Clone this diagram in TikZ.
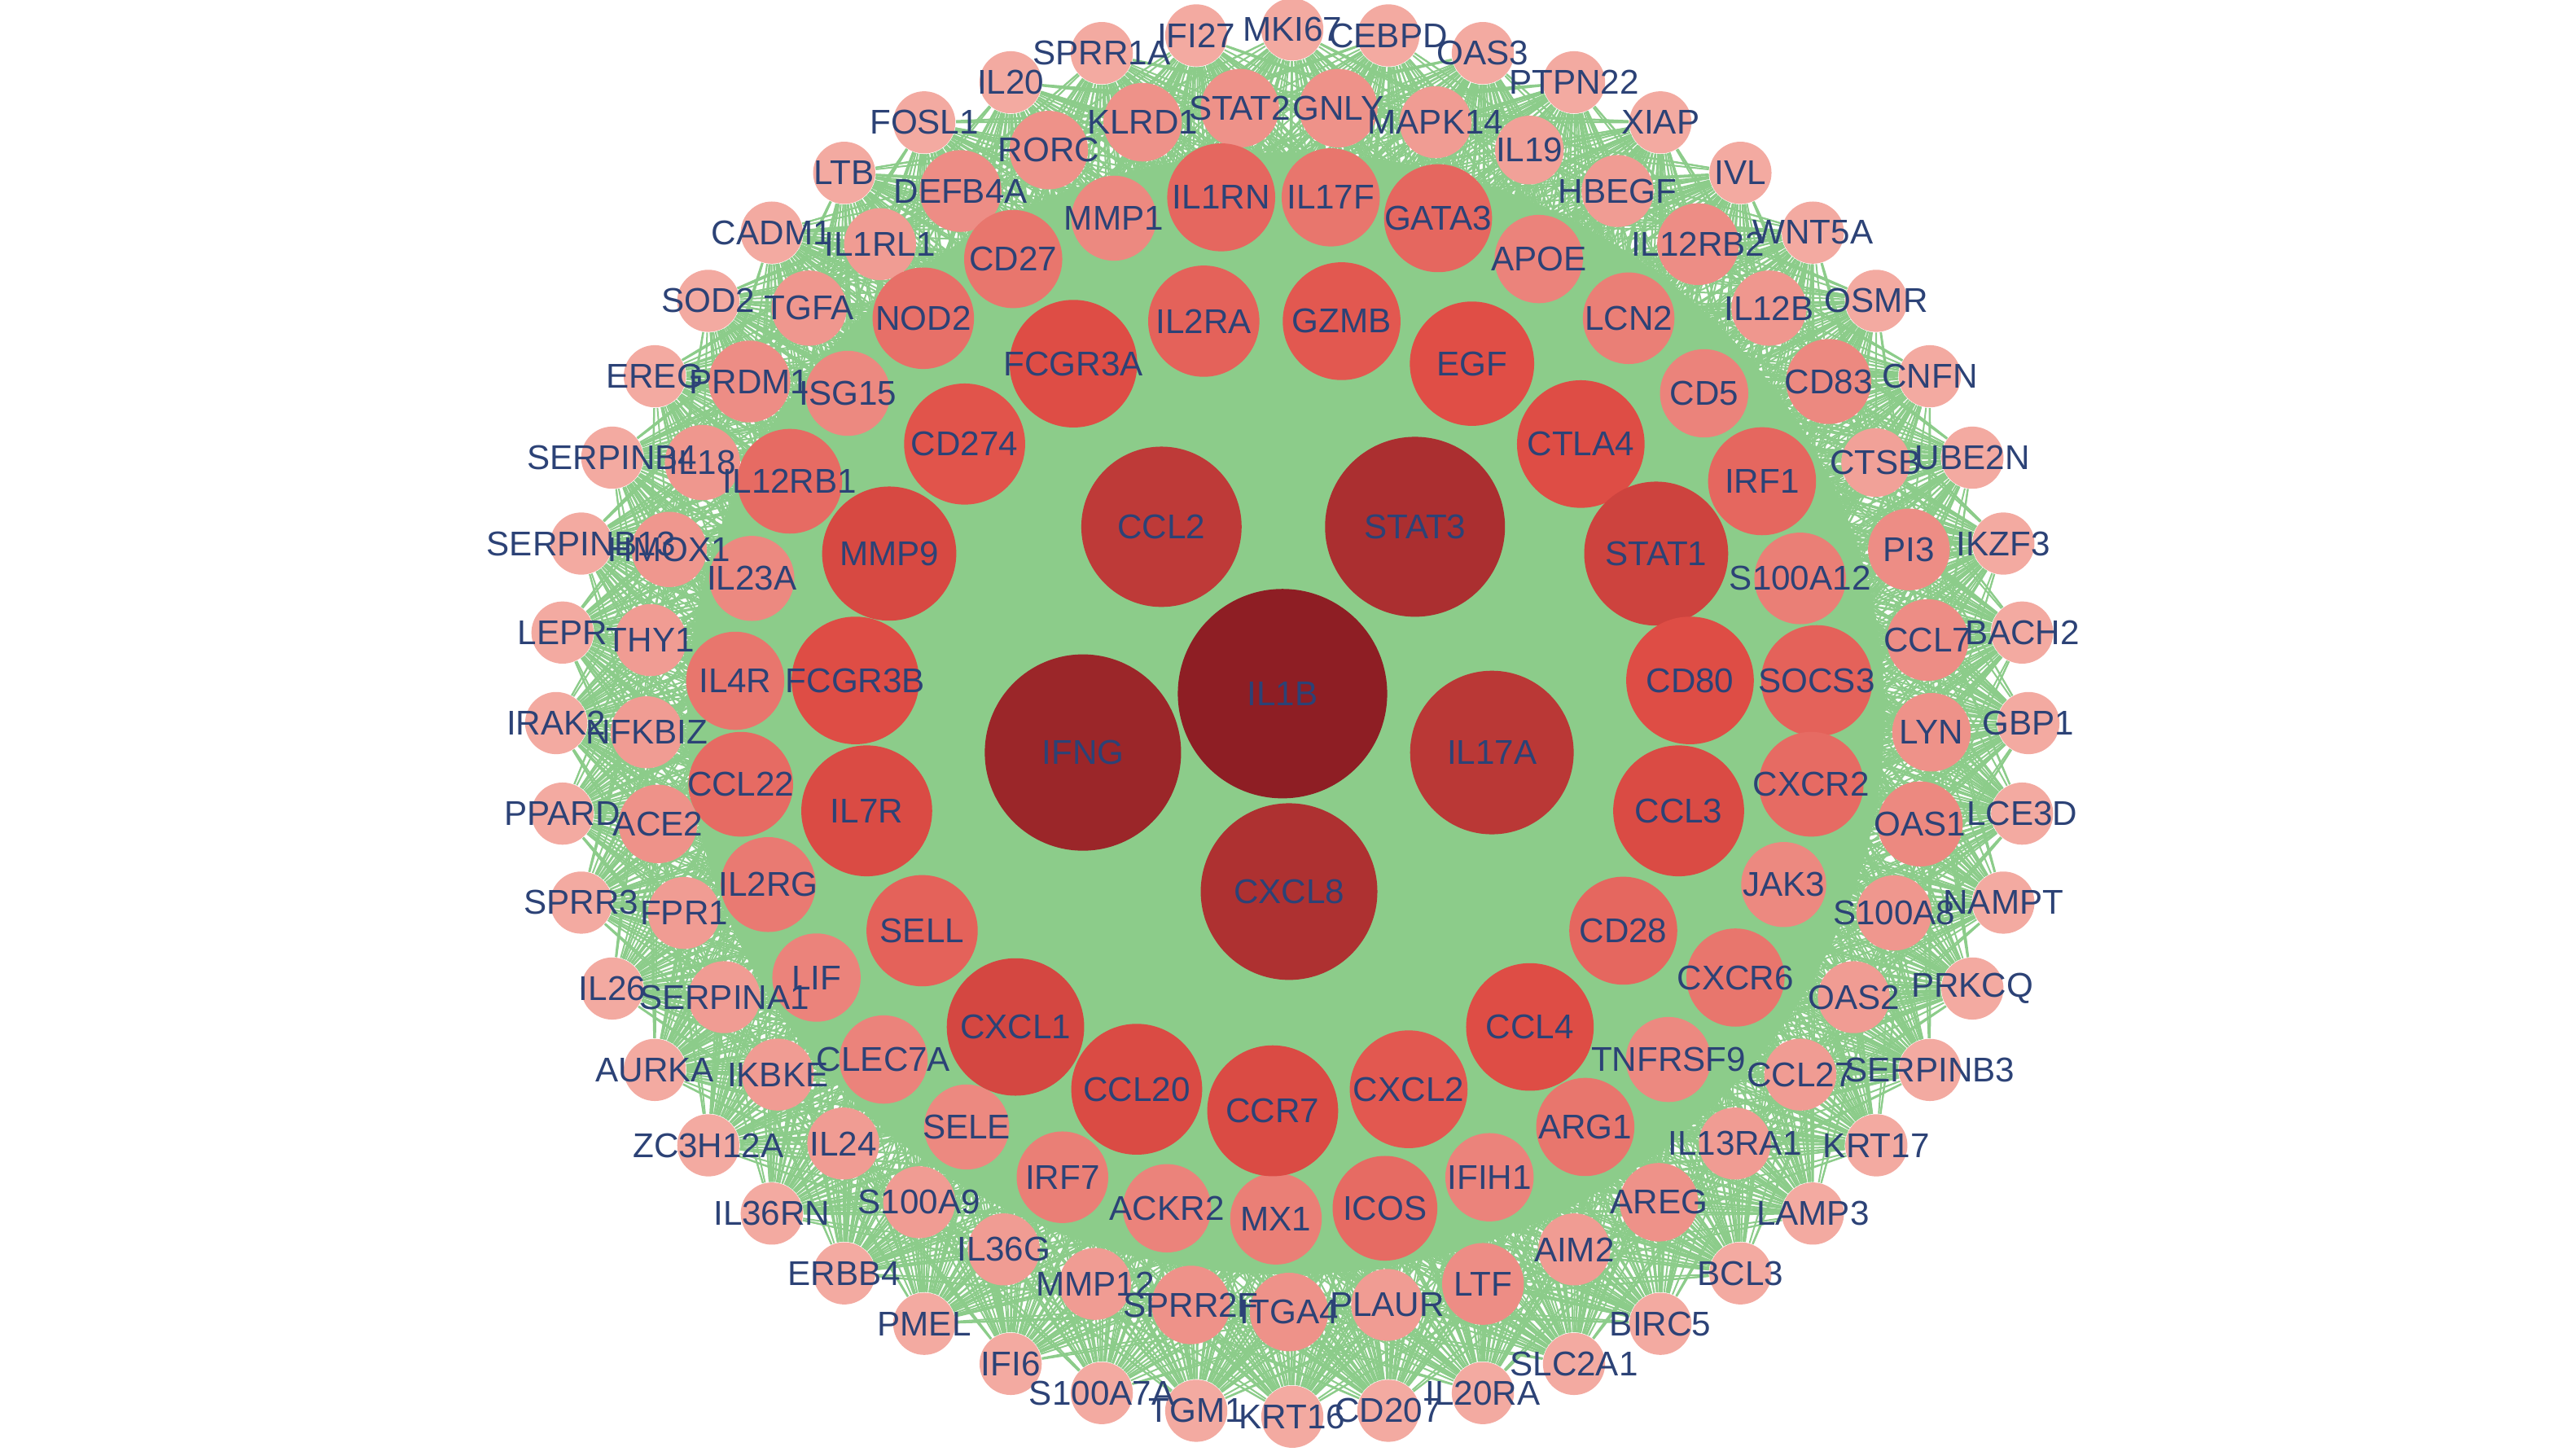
\documentclass[tikz,border=0pt]{standalone}
\usepackage{fontspec}
\setmainfont{Liberation Sans}
\usetikzlibrary{backgrounds}

\definecolor{nwgreen}{RGB}{140,204,138}
\definecolor{nwlow}{RGB}{243,170,161}
\definecolor{nwmid}{RGB}{224,78,70}
\definecolor{nwhigh}{RGB}{142,30,36}
\definecolor{nwtext}{RGB}{44,66,118}

% fill colour from node radius (light pink -> red -> dark red)
\newcommand\genefill[1]{%
  \pgfmathtruncatemacro\gpa{min(100,max(0,(#1-19)*100/19))}%
  \pgfmathtruncatemacro\gpb{min(100,max(0,(#1-38)*100/26))}%
  \colorlet{genetmp}{nwmid!\gpa!nwlow}%
  \colorlet{genecol}{nwhigh!\gpb!genetmp}}

\tikzset{
  gene/.style={circle,inner sep=0pt,minimum size=#1pt,fill=genecol},
  genetext/.style={text=nwtext,inner sep=0pt,font=\fontsize{10.5}{12}\selectfont},
  link/.style={nwgreen,line width=0.5pt}
}

% name/radius/x/y
\def\coreset{IL1B/64/784/424, IFNG/60/662/460, STAT3/55/865/322,
  CXCL8/54/788/545, CCL2/49/710/322, IL17A/50/912/460}
% rings, clockwise from the top
\def\ringB{GZMB/36, EGF/38, CTLA4/39, STAT1/44, CD80/39, CCL3/40, CD28/33,
  CCL4/39, CXCL2/36, CCR7/40, CCL20/40, CXCL1/42, SELL/34, IL7R/40,
  FCGR3B/39, MMP9/41, CD274/37, FCGR3A/39, IL2RA/34}
\def\ringC{IL17F/30, GATA3/33, APOE/27, LCN2/28, CD5/27, IRF1/33, S100A12/28,
  SOCS3/34, CXCR2/32, JAK3/26, CXCR6/30, TNFRSF9/26, ARG1/30, IFIH1/27,
  ICOS/32, MX1/28, ACKR2/27, IRF7/28, SELE/26, CLEC7A/27, LIF/27, IL2RG/29,
  CCL22/32, IL4R/30, IL23A/26, IL12RB1/32, ISG15/26, NOD2/31, CD27/30,
  MMP1/26, IL1RN/33}
\def\ringD{GNLY/24, MAPK14/22, IL19/21, HBEGF/22, IL12RB2/25, IL12B/23,
  CD83/26, CTSB/21, PI3/25, CCL7/25, LYN/24, OAS1/26, S100A8/23, OAS2/22,
  CCL27/22, IL13RA1/22, AREG/24, AIM2/22, LTF/25, PLAUR/22, ITGA4/24,
  SPRR2F/24, MMP12/22, IL36G/22, S100A9/22, IL24/22, IKBKE/22, SERPINA1/22,
  FPR1/22, ACE2/24, NFKBIZ/22, THY1/22, HMOX1/23, IL18/23, PRDM1/25,
  TGFA/23, IL1RL1/22, DEFB4A/25, RORC/24, KLRD1/24, STAT2/24}
\def\ringE{MKI67, CEBPD, OAS3, PTPN22, XIAP, IVL, WNT5A, OSMR, CNFN, UBE2N,
  IKZF3, BACH2, GBP1, LCE3D, NAMPT, PRKCQ, SERPINB3, KRT17, LAMP3, BCL3,
  BIRC5, SLC2A1, IL20RA, CD207, KRT16, TGM1, S100A7A, IFI6, PMEL, ERBB4,
  IL36RN, ZC3H12A, AURKA, IL26, SPRR3, PPARD, IRAK2, LEPR, SERPINB13,
  SERPINB4, EREG, SOD2, CADM1, LTB, FOSL1, IL20, SPRR1A, IFI27}
\def\hubs{IL1B, IFNG, STAT3, CXCL8, CCL2, IL17A, GZMB, EGF, CTLA4, STAT1,
  CD80, CCL3, CD28, CCL4, CXCL2, CCR7, CCL20, CXCL1, SELL, IL7R, FCGR3B,
  MMP9, CD274, FCGR3A, IL2RA}

\begin{document}
\begin{tikzpicture}[x=0.5pt,y=-0.5pt]
  \useasboundingbox (0,0) rectangle (1568,890);

  % nodes
  \foreach \n [count=\i from 0] in \ringE {\genefill{19}
    \node[gene=19,alias=ra-\i] (\n)
      at ({790+450*cos(90-7.5*\i)},{442-424*sin(90-7.5*\i)}) {};}
  \foreach \n/\r [count=\i from 0] in \ringD {\genefill{\r}
    \node[gene=\r,alias=rb-\i] (\n)
      at ({788+393*cos(85.61-8.7805*\i)},{433.5-368.5*sin(85.61-8.7805*\i)}) {};}
  \foreach \n/\r [count=\i from 0] in \ringC {\genefill{\r}
    \node[gene=\r] (\n)
      at ({780+331*cos(84.194-11.6129*\i)},{432-313*sin(84.194-11.6129*\i)}) {};}
  \foreach \n/\r [count=\i from 0] in \ringB {\genefill{\r}
    \node[gene=\r] (\n)
      at ({778+256*cos(80.526-18.9474*\i)},{436-243*sin(80.526-18.9474*\i)}) {};}
  \foreach \n/\r/\x/\y in \coreset {\genefill{\r}
    \node[gene=\r] (\n) at (\x,\y) {};}

  % labels
  \foreach \n in \ringE {\node[genetext] (\n-t) at (\n) {\n};}
  \foreach \n/\r in \ringD {\node[genetext] (\n-t) at (\n) {\n};}
  \foreach \n/\r in \ringC {\node[genetext] (\n-t) at (\n) {\n};}
  \foreach \n/\r in \ringB {\node[genetext] (\n-t) at (\n) {\n};}
  \foreach \n/\r/\x/\y in \coreset {\node[genetext] (\n-t) at (\n) {\n};}

  % edges
  \begin{scope}[on background layer]
    \fill[nwgreen] (786,436) ellipse [x radius=366, y radius=343];
    \foreach \a in \ringE {\foreach \b in \hubs {\draw[link] (\a) -- (\b);}}
    \foreach \a in \ringE {\foreach \b/\s in \ringC {\draw[link] (\a) -- (\b);}}
    \foreach \a/\r in \ringD {\foreach \b in \hubs {\draw[link] (\a) -- (\b);}}
    \foreach \i in {0,...,47} {\foreach \o in {-4,-3,-2,-1,1,2,3,4} {
      \pgfmathtruncatemacro\k{mod(round((7.5*\i-4.39)/8.7805)+\o+41,41)}
      \draw[link] (ra-\i) -- (rb-\k);}}
  \end{scope}
\end{tikzpicture}
\end{document}
